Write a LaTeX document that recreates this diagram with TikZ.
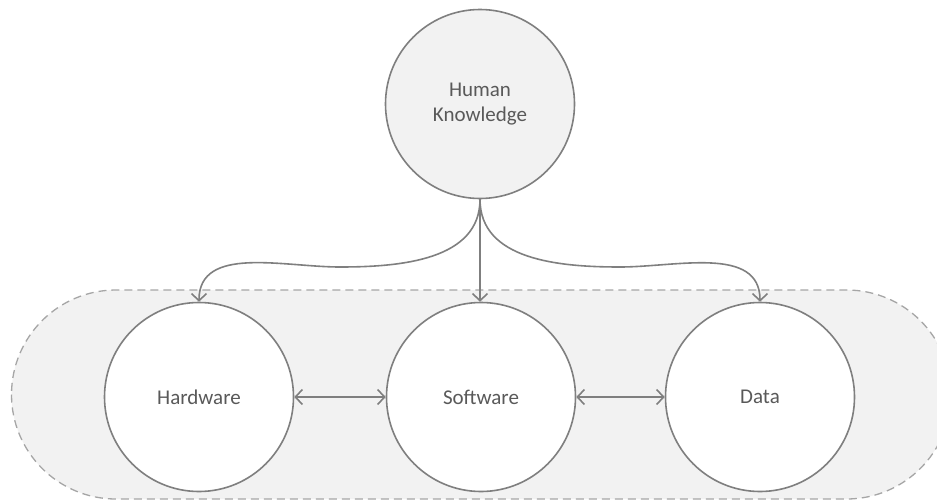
\documentclass[tikz,border=0pt]{standalone}
\usepackage{fontspec}
\setmainfont{Carlito}
\usetikzlibrary{arrows.meta}
\definecolor{lineg}{HTML}{7F7F7F}
\definecolor{dashg}{HTML}{A6A6A6}
\definecolor{fillg}{HTML}{F2F2F2}
\definecolor{textg}{HTML}{595959}
\tikzset{
  circ/.style={circle,draw=lineg,line width=1.6pt,minimum size=189pt,inner sep=0pt,
    font=\fontsize{21}{25}\selectfont,text=textg,align=center},
  conn/.style={draw=lineg,line width=1.6pt,-{Straight Barb[length=7pt,width=15pt]}},
  dconn/.style={draw=lineg,line width=1.6pt,{Straight Barb[length=7pt,width=15pt]}-{Straight Barb[length=7pt,width=15pt]}},
  group/.style={draw=dashg,fill=fillg,line width=1.3pt,dash pattern=on 8pt off 5pt}
}
\begin{document}
\begin{tikzpicture}[x=1pt,y=-1pt]
\useasboundingbox (0,0) rectangle (937,501);
\clip (0,0) rectangle (937,501);
\path[group,rounded corners=104.5pt] (11.5,290) rectangle (951,499);
\node[circ,fill=fillg] (hk) at (480,104) {Human\\Knowledge};
\node[circ,fill=white] (hw) at (199,397) {Hardware};
\node[circ,fill=white] (sw) at (481,397) {Software};
\node[circ,fill=white] (dt) at (760,397) {Data};
\coordinate (lmid) at (340,267);
\coordinate (rmid) at (620,267);
\draw[conn] (hk.south) to[out=-90,in=0] (lmid) to[out=180,in=90] (hw.north);
\draw[conn] (hk.south) -- (hk.south |- sw.north);
\draw[conn] (hk.south) to[out=-90,in=180] (rmid) to[out=0,in=90] (dt.north);
\draw[dconn] (hw.east) -- (sw.west);
\draw[dconn] (sw.east) -- (dt.west);
\end{tikzpicture}
\end{document}
